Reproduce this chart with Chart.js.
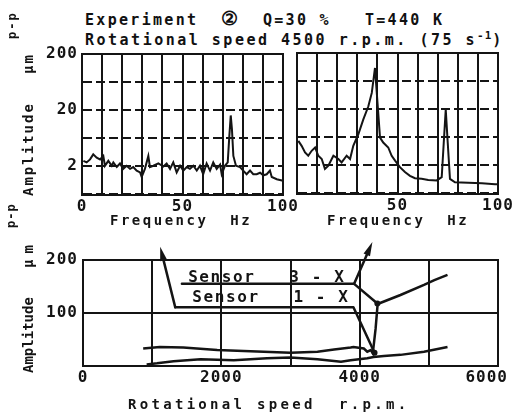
<!DOCTYPE html>
<html>
<head>
<meta charset="utf-8">
<script src="https://cdn.jsdelivr.net/npm/chart.js@4.4.1/dist/chart.umd.min.js"></script>
<style>
  html, body { margin: 0; padding: 0; background: #fff; overflow: hidden; }
  #wrap { position: relative; width: 515px; height: 414px; }
  canvas { position: absolute; }
  .hdr { position: absolute; left: 85px; font: bold 15px "DejaVu Sans Mono", monospace; letter-spacing: 2.3px;
         color: #111; white-space: pre; line-height: 1; }
  .sup { font-size: 11px; position: relative; top: -6px; letter-spacing: 1px; }
  .circ { font-size: 19px; line-height: 1; }
</style>
</head>
<body>
<div id="wrap">
  <div class="hdr" style="top:9px">Experiment  <span class="circ">②</span>  Q=30 %   T=440 K</div>
  <div class="hdr" style="top:33px;letter-spacing:2.5px">Rotational speed 4500 r.p.m. (75 s<span class="sup">-1</span>)</div>
  <canvas id="left" width="305" height="232" style="left:0;top:0"></canvas>
  <canvas id="right" width="230" height="232" style="left:285px;top:0"></canvas>
  <canvas id="speed" width="515" height="219" style="left:0;top:195px"></canvas>
</div>
<script>
// spectrum, sensor 1 (left panel)  Hz / um p-p
const leftFreq = [0.7, 2.3, 4, 5.6, 7.3, 9, 10.6, 11.4, 13.1, 14.8, 15.6, 17.3, 18.9, 20.5, 22.2, 23.9, 25.5, 27.2,
  28.9, 29.7, 31.3, 33, 33.8, 35.5, 38, 40.5, 42.1, 43.8, 45.4, 47.1, 48.8, 50.4, 52.1, 53.7, 55.4, 57.1, 58.7,
  60.3, 62, 63.7, 65.3, 67, 68.7, 69.5, 71.1, 72.5, 73.3, 74, 74.6, 75.3, 76.6, 78.6, 80.2, 81.9, 83.6, 85.2,
  86.9, 88.6, 90.2, 91.9, 93.5, 94.4, 96.9, 99.4, 100];
const leftAmp = [2.45, 2.3, 2.6, 3.2, 2.8, 2.6, 3.0, 2.0, 2.45, 2.0, 2.3, 1.9, 2.2, 1.76, 2.0, 1.76, 1.9, 1.64,
  1.52, 1.26, 1.76, 3.0, 1.9, 2.0, 2.2, 1.94, 2.2, 1.76, 2.3, 1.52, 2.0, 1.64, 1.9, 1.76, 2.0, 1.64, 2.0,
  1.41, 2.2, 1.64, 2.3, 1.76, 2.1, 1.41, 2.0, 2.3, 6.8, 15.9, 9.0, 3.0, 2.0, 1.9, 1.64, 1.41, 1.64, 1.41,
  1.41, 1.5, 1.35, 1.41, 1.64, 1.26, 1.15, 1.09, 1.1];

// spectrum, sensor 3 (right panel)
const rightFreq = [0.66, 2.3, 4, 5.6, 7.3, 9, 10.6, 12.3, 13.9, 15.6, 18.1, 20.6, 22.2, 24.7, 26.4, 28, 30.5, 33,
  35.5, 37.2, 38.8, 41.3, 42.9, 45.4, 47.1, 48.8, 51.2, 53.7, 56.2, 58.7, 62, 65.3, 69.5, 72, 73, 74, 75, 76.1,
  78.6, 85.2, 92, 98.5, 100];
const rightAmp = [5.35, 4.36, 3.33, 2.9, 3.56, 4.08, 2.9, 2.54, 1.69, 1.93, 2.9, 2.54, 2.21, 2.9, 2.54, 4.36, 7.03, 13,
  22.3, 38.6, 108, 6.14, 5.0, 4.08, 2.9, 2.37, 1.81, 1.48, 1.27, 1.15, 1.12, 1.07, 1.05, 1.2, 4.9, 19.5, 4.9, 1.12,
  0.97, 0.95, 0.93, 0.9, 0.9];

const freqLabelsLeft = [0, 50, 100];
const freqLabelsRight = [50, 100];
const ampGrid = [0.6325, 2, 6.325, 20, 63.25, 200];
const ampLabels = [2, 20, 200];

// amplitude vs rotational speed (bottom)
const s3Speed = [870, 1110, 1450, 1940, 2420, 3000, 3390, 3630, 3870, 3910, 4060, 4110, 4160, 4190, 4230, 4260, 4590, 4930, 5080, 5270];
const s3Amp = [33, 36, 35, 30, 28, 25, 27, 31, 35, 36, 33, 27, 30, 24, 70, 117, 134, 153, 162, 172];
const s1Speed = [920, 1070, 1310, 1700, 2180, 2660, 3000, 3390, 3730, 3870, 4110, 4200, 4350, 4590, 4930, 5270];
const s1Amp = [3, 5, 9, 12.6, 11, 14.5, 16, 12.6, 8, 11, 14.5, 17, 19, 21, 27, 36];
const speedLabels = [0, 2000, 4000, 6000];
const speedAmpLabels = [100, 200];

const sensorNames = ['Sensor   3 - X', 'Sensor   1 - X'];
const sensorTextAt = [[1520, 158], [1580, 121]];
const leader3 = [[1430, 155], [3920, 155], [4256, 118]];
const leader1 = [[1333, 111], [3910, 111], [4215, 25]];
const arrow3 = [[3920, 155], [4184, 234]];
const arrow1 = [[1333, 111], [1116, 225]];

const INK = '#141414';
const MONO = '"DejaVu Sans Mono", "Liberation Mono", monospace';
Chart.defaults.font.family = MONO;
Chart.defaults.font.weight = 'bold';
Chart.defaults.font.size = 16;
Chart.defaults.color = INK;

const pairs = (xs, ys) => xs.map((x, i) => ({ x: x, y: ys[i] }));

const spacing = { id: 'spacing', beforeDraw(chart) { chart.ctx.letterSpacing = '1px'; } };

const frame = {
  id: 'frame',
  afterDatasetsDraw(chart) {
    const { ctx, chartArea: a } = chart;
    ctx.save();
    ctx.strokeStyle = INK;
    ctx.lineWidth = 2;
    ctx.strokeRect(a.left, a.top, a.right - a.left, a.bottom - a.top);
    ctx.restore();
  }
};

function text(ctx, str, x, y, size, gap, align) {
  ctx.save();
  ctx.font = 'bold ' + size + 'px ' + MONO;
  ctx.letterSpacing = gap + 'px';
  ctx.fillStyle = INK;
  ctx.textAlign = align || 'left';
  ctx.textBaseline = 'alphabetic';
  ctx.fillText(str, x, y);
  ctx.restore();
}

function vtext(ctx, str, x, y, size, gap) {
  ctx.save();
  ctx.translate(x, y);
  ctx.rotate(-Math.PI / 2);
  text(ctx, str, 0, 0, size, gap);
  ctx.restore();
}

function spectrum(id, freq, amp, labels, showY, pad, yWidth, xHeight, decor) {
  return new Chart(document.getElementById(id), {
    type: 'line',
    data: { datasets: [{ data: pairs(freq, amp), borderColor: INK, borderWidth: 2, pointRadius: 0, tension: 0 }] },
    options: {
      responsive: false,
      animation: false,
      layout: { padding: pad },
      plugins: { legend: { display: false }, tooltip: { enabled: false } },
      scales: {
        x: {
          type: 'linear', min: 0, max: 100,
          grid: { color: INK, lineWidth: 2, drawTicks: false },
          border: { color: INK, width: 2 },
          ticks: { stepSize: 10, autoSkip: false, maxRotation: 0, padding: 2,
                   callback: v => labels.includes(v) ? String(v) : '' },
          afterFit: s => { s.height = xHeight; s.paddingLeft = 0; s.paddingRight = 0; }
        },
        y: {
          type: 'logarithmic', min: ampGrid[0], max: ampGrid[ampGrid.length - 1],
          afterBuildTicks: s => { s.ticks = ampGrid.map(v => ({ value: v })); },
          grid: { color: INK, lineWidth: 2, drawTicks: false },
          border: { color: INK, width: 2, dash: [9, 4] },
          ticks: { padding: 4, autoSkip: false,
                   callback: v => showY && ampLabels.includes(v) ? String(v) : '' },
          afterFit: s => { s.width = yWidth; }
        }
      }
    },
    plugins: [spacing, frame, decor]
  });
}

spectrum('left', leftFreq, leftAmp, freqLabelsLeft, true,
  { top: 54, right: 22, bottom: 7, left: 0 }, 82, 30, {
    id: 'leftDecor',
    afterDraw(chart) {
      const ctx = chart.ctx;
      text(ctx, 'Frequency  Hz', 110, 225, 14, 2.5);
      vtext(ctx, 'Amplitude', 33, 196, 14, 2);
      vtext(ctx, 'μm', 33, 74, 14, 2);
      vtext(ctx, 'p-p', 16, 39, 12, 2);
    }
  });

spectrum('right', rightFreq, rightAmp, freqLabelsRight, false,
  { top: 53, right: 17, bottom: 7, left: 0 }, 12, 31, {
    id: 'rightDecor',
    afterDraw(chart) {
      text(chart.ctx, 'Frequency  Hz', 327 - 285, 225, 14, 2.5);
    }
  });

function arrow(ctx, x0, y0, x1, y1) {
  const ang = Math.atan2(y1 - y0, x1 - x0);
  const len = 14, half = 3.5;
  ctx.beginPath();
  ctx.moveTo(x0, y0);
  ctx.lineTo(x1 - Math.cos(ang) * len * 0.6, y1 - Math.sin(ang) * len * 0.6);
  ctx.stroke();
  ctx.beginPath();
  ctx.moveTo(x1, y1);
  ctx.lineTo(x1 - Math.cos(ang) * len + Math.sin(ang) * half, y1 - Math.sin(ang) * len - Math.cos(ang) * half);
  ctx.lineTo(x1 - Math.cos(ang) * len - Math.sin(ang) * half, y1 - Math.sin(ang) * len + Math.cos(ang) * half);
  ctx.closePath();
  ctx.fill();
}

const speedDecor = {
  id: 'speedDecor',
  afterDraw(chart) {
    const { ctx, scales: { x, y } } = chart;
    const px = p => [x.getPixelForValue(p[0]), y.getPixelForValue(p[1])];

    // x tick labels, kept inside the canvas
    ctx.save();
    ctx.font = 'bold 16px ' + MONO;
    ctx.letterSpacing = '1px';
    ctx.fillStyle = INK;
    ctx.textAlign = 'center';
    ctx.textBaseline = 'middle';
    speedLabels.forEach(v => {
      const s = String(v);
      const w = ctx.measureText(s).width;
      const cx = Math.min(x.getPixelForValue(v), chart.width - 7 - w / 2);
      ctx.fillText(s, cx, y.bottom + 12);
    });
    ctx.restore();

    text(ctx, 'Rotational speed  r.p.m.', 128, 214, 14, 3.3);
    vtext(ctx, 'Amplitude', 33, 178, 14, 0);
    vtext(ctx, 'μm', 33, 73, 14, 6);
    vtext(ctx, 'p-p', 15, 33, 12, 1);

    sensorNames.forEach((n, i) => {
      const p = px(sensorTextAt[i]);
      text(ctx, n, p[0], p[1], 16, 1.6);
    });

    ctx.save();
    ctx.strokeStyle = INK;
    ctx.fillStyle = INK;
    ctx.lineWidth = 2.5;
    ctx.lineJoin = 'round';
    ctx.lineCap = 'round';
    [leader3, leader1].forEach(l => {
      ctx.beginPath();
      l.forEach((p, i) => {
        const q = px(p);
        if (i === 0) ctx.moveTo(q[0], q[1]); else ctx.lineTo(q[0], q[1]);
      });
      ctx.stroke();
      const end = px(l[l.length - 1]);
      ctx.beginPath();
      ctx.arc(end[0], end[1], 3, 0, Math.PI * 2);
      ctx.fill();
    });
    [arrow3, arrow1].forEach(a => {
      const p0 = px(a[0]), p1 = px(a[1]);
      arrow(ctx, p0[0], p0[1], p1[0], p1[1]);
    });
    ctx.restore();
  }
};

new Chart(document.getElementById('speed'), {
  type: 'line',
  data: {
    datasets: [
      { label: 'Sensor 3 - X', data: pairs(s3Speed, s3Amp), borderColor: INK, borderWidth: 2.5, pointRadius: 0, tension: 0 },
      { label: 'Sensor 1 - X', data: pairs(s1Speed, s1Amp), borderColor: INK, borderWidth: 2.5, pointRadius: 0, tension: 0 }
    ]
  },
  options: {
    responsive: false,
    animation: false,
    layout: { padding: { top: 65, right: 17, bottom: 0, left: 0 } },
    plugins: { legend: { display: false }, tooltip: { enabled: false } },
    scales: {
      x: {
        type: 'linear', min: 0, max: 6000,
        grid: { color: INK, lineWidth: 2, drawTicks: false },
        border: { color: INK, width: 2 },
        ticks: { stepSize: 1000, display: false },
        afterFit: s => { s.height = 48; s.paddingLeft = 0; s.paddingRight = 0; }
      },
      y: {
        min: 0, max: 200,
        grid: { color: INK, lineWidth: 2, drawTicks: false },
        border: { color: INK, width: 2 },
        ticks: { stepSize: 100, padding: 5, callback: v => speedAmpLabels.includes(v) ? String(v) : '' },
        afterFit: s => { s.width = 83; }
      }
    }
  },
  plugins: [spacing, frame, speedDecor]
});
</script>
</body>
</html>
